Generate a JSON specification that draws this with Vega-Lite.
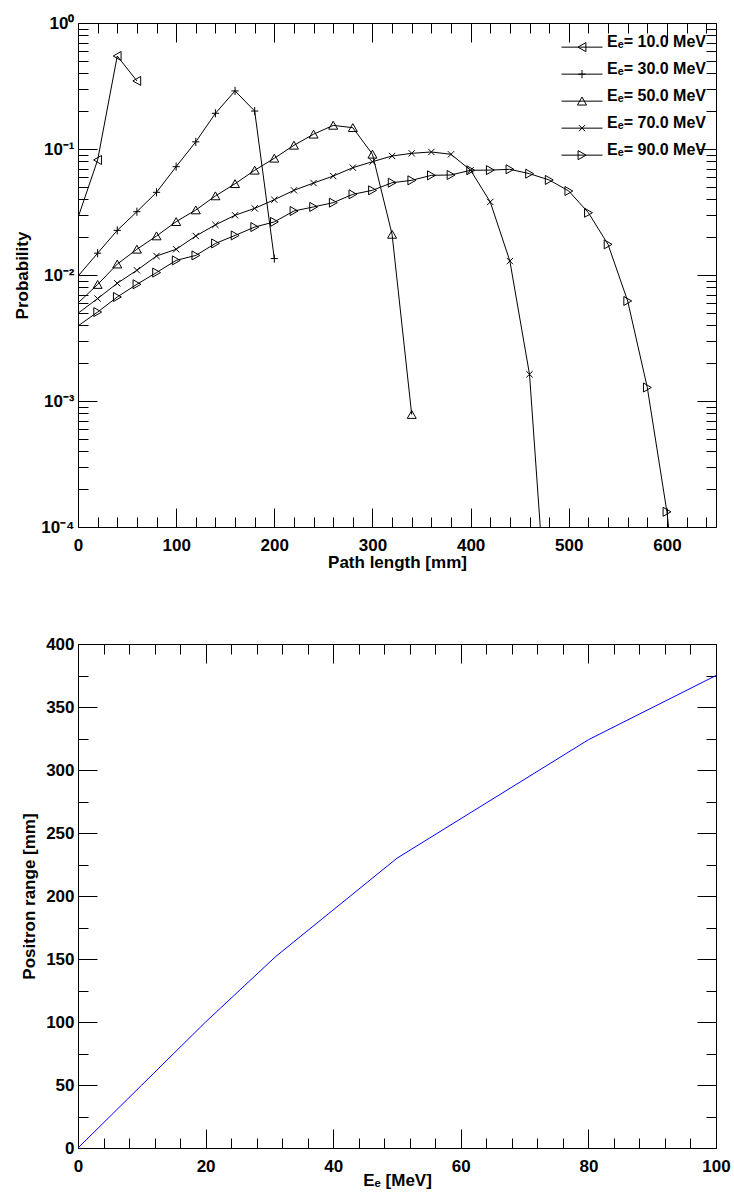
{
  "$schema": "https://vega.github.io/schema/vega-lite/v6.json",
  "padding": {"left": 13, "top": 14, "right": 5, "bottom": 5},
  "background": "white",
  "bounds": "flush",
  "spacing": 117,
  "config": {
    "font": "Liberation Sans",
    "view": {"stroke": null},
    "axis": {
      "labelFont": "Liberation Sans", "labelFontWeight": "bold", "labelFontSize": 17, "labelColor": "black",
      "titleFont": "Liberation Sans", "titleFontWeight": "bold", "titleFontSize": 17, "titleColor": "black",
      "domainColor": "black", "domainWidth": 1, "tickColor": "black", "tickWidth": 1,
      "grid": false, "labelFlush": false, "labelOverlap": false
    }
  },
  "vconcat": [
    {
      "width": 638, "height": 504,
      "data": {"values": [
        {"series": "Eₑ= 10.0 MeV", "x": 0, "p": 0.0285},
        {"series": "Eₑ= 10.0 MeV", "x": 20, "p": 0.0818},
        {"series": "Eₑ= 10.0 MeV", "x": 40, "p": 0.547},
        {"series": "Eₑ= 10.0 MeV", "x": 60, "p": 0.347},
        {"series": "Eₑ= 30.0 MeV", "x": 0, "p": 0.0098},
        {"series": "Eₑ= 30.0 MeV", "x": 20, "p": 0.0149},
        {"series": "Eₑ= 30.0 MeV", "x": 40, "p": 0.0226},
        {"series": "Eₑ= 30.0 MeV", "x": 60, "p": 0.0318},
        {"series": "Eₑ= 30.0 MeV", "x": 80, "p": 0.0453},
        {"series": "Eₑ= 30.0 MeV", "x": 100, "p": 0.0724},
        {"series": "Eₑ= 30.0 MeV", "x": 120, "p": 0.114},
        {"series": "Eₑ= 30.0 MeV", "x": 140, "p": 0.192},
        {"series": "Eₑ= 30.0 MeV", "x": 160, "p": 0.289},
        {"series": "Eₑ= 30.0 MeV", "x": 180, "p": 0.2},
        {"series": "Eₑ= 30.0 MeV", "x": 200, "p": 0.0135},
        {"series": "Eₑ= 50.0 MeV", "x": 0, "p": 0.006},
        {"series": "Eₑ= 50.0 MeV", "x": 20, "p": 0.0084},
        {"series": "Eₑ= 50.0 MeV", "x": 40, "p": 0.0122},
        {"series": "Eₑ= 50.0 MeV", "x": 60, "p": 0.016},
        {"series": "Eₑ= 50.0 MeV", "x": 80, "p": 0.0204},
        {"series": "Eₑ= 50.0 MeV", "x": 100, "p": 0.0265},
        {"series": "Eₑ= 50.0 MeV", "x": 120, "p": 0.0328},
        {"series": "Eₑ= 50.0 MeV", "x": 140, "p": 0.0424},
        {"series": "Eₑ= 50.0 MeV", "x": 160, "p": 0.053},
        {"series": "Eₑ= 50.0 MeV", "x": 180, "p": 0.0678},
        {"series": "Eₑ= 50.0 MeV", "x": 200, "p": 0.0844},
        {"series": "Eₑ= 50.0 MeV", "x": 220, "p": 0.107},
        {"series": "Eₑ= 50.0 MeV", "x": 240, "p": 0.131},
        {"series": "Eₑ= 50.0 MeV", "x": 260, "p": 0.154},
        {"series": "Eₑ= 50.0 MeV", "x": 280, "p": 0.1476},
        {"series": "Eₑ= 50.0 MeV", "x": 300, "p": 0.0908},
        {"series": "Eₑ= 50.0 MeV", "x": 320, "p": 0.021},
        {"series": "Eₑ= 50.0 MeV", "x": 340, "p": 0.00078},
        {"series": "Eₑ= 70.0 MeV", "x": 0, "p": 0.00497},
        {"series": "Eₑ= 70.0 MeV", "x": 20, "p": 0.0065},
        {"series": "Eₑ= 70.0 MeV", "x": 40, "p": 0.0086},
        {"series": "Eₑ= 70.0 MeV", "x": 60, "p": 0.0109},
        {"series": "Eₑ= 70.0 MeV", "x": 80, "p": 0.01415},
        {"series": "Eₑ= 70.0 MeV", "x": 100, "p": 0.016},
        {"series": "Eₑ= 70.0 MeV", "x": 120, "p": 0.0204},
        {"series": "Eₑ= 70.0 MeV", "x": 140, "p": 0.025},
        {"series": "Eₑ= 70.0 MeV", "x": 160, "p": 0.0298},
        {"series": "Eₑ= 70.0 MeV", "x": 180, "p": 0.0338},
        {"series": "Eₑ= 70.0 MeV", "x": 200, "p": 0.0396},
        {"series": "Eₑ= 70.0 MeV", "x": 220, "p": 0.047},
        {"series": "Eₑ= 70.0 MeV", "x": 240, "p": 0.0537},
        {"series": "Eₑ= 70.0 MeV", "x": 260, "p": 0.061},
        {"series": "Eₑ= 70.0 MeV", "x": 280, "p": 0.0711},
        {"series": "Eₑ= 70.0 MeV", "x": 300, "p": 0.0793},
        {"series": "Eₑ= 70.0 MeV", "x": 320, "p": 0.088},
        {"series": "Eₑ= 70.0 MeV", "x": 340, "p": 0.0924},
        {"series": "Eₑ= 70.0 MeV", "x": 360, "p": 0.0947},
        {"series": "Eₑ= 70.0 MeV", "x": 380, "p": 0.0908},
        {"series": "Eₑ= 70.0 MeV", "x": 400, "p": 0.0678},
        {"series": "Eₑ= 70.0 MeV", "x": 420, "p": 0.038},
        {"series": "Eₑ= 70.0 MeV", "x": 440, "p": 0.0129},
        {"series": "Eₑ= 70.0 MeV", "x": 460, "p": 0.00163},
        {"series": "Eₑ= 70.0 MeV", "x": 480, "p": 0.00001},
        {"series": "Eₑ= 90.0 MeV", "x": 0, "p": 0.00394},
        {"series": "Eₑ= 90.0 MeV", "x": 20, "p": 0.00508},
        {"series": "Eₑ= 90.0 MeV", "x": 40, "p": 0.00669},
        {"series": "Eₑ= 90.0 MeV", "x": 60, "p": 0.00844},
        {"series": "Eₑ= 90.0 MeV", "x": 80, "p": 0.01045},
        {"series": "Eₑ= 90.0 MeV", "x": 100, "p": 0.01306},
        {"series": "Eₑ= 90.0 MeV", "x": 120, "p": 0.0143},
        {"series": "Eₑ= 90.0 MeV", "x": 140, "p": 0.0178},
        {"series": "Eₑ= 90.0 MeV", "x": 160, "p": 0.0206},
        {"series": "Eₑ= 90.0 MeV", "x": 180, "p": 0.024},
        {"series": "Eₑ= 90.0 MeV", "x": 200, "p": 0.0264},
        {"series": "Eₑ= 90.0 MeV", "x": 220, "p": 0.0322},
        {"series": "Eₑ= 90.0 MeV", "x": 240, "p": 0.0347},
        {"series": "Eₑ= 90.0 MeV", "x": 260, "p": 0.0375},
        {"series": "Eₑ= 90.0 MeV", "x": 280, "p": 0.0437},
        {"series": "Eₑ= 90.0 MeV", "x": 300, "p": 0.047},
        {"series": "Eₑ= 90.0 MeV", "x": 320, "p": 0.054},
        {"series": "Eₑ= 90.0 MeV", "x": 340, "p": 0.0564},
        {"series": "Eₑ= 90.0 MeV", "x": 360, "p": 0.0618},
        {"series": "Eₑ= 90.0 MeV", "x": 380, "p": 0.0622},
        {"series": "Eₑ= 90.0 MeV", "x": 400, "p": 0.0678},
        {"series": "Eₑ= 90.0 MeV", "x": 420, "p": 0.068},
        {"series": "Eₑ= 90.0 MeV", "x": 440, "p": 0.069},
        {"series": "Eₑ= 90.0 MeV", "x": 460, "p": 0.0637},
        {"series": "Eₑ= 90.0 MeV", "x": 480, "p": 0.0568},
        {"series": "Eₑ= 90.0 MeV", "x": 500, "p": 0.0464},
        {"series": "Eₑ= 90.0 MeV", "x": 520, "p": 0.0312},
        {"series": "Eₑ= 90.0 MeV", "x": 540, "p": 0.0175},
        {"series": "Eₑ= 90.0 MeV", "x": 560, "p": 0.00622},
        {"series": "Eₑ= 90.0 MeV", "x": 580, "p": 0.00128},
        {"series": "Eₑ= 90.0 MeV", "x": 600, "p": 0.000132},
        {"series": "Eₑ= 90.0 MeV", "x": 620, "p": 0.000005}
      ]},
      "layer": [
        {
          "mark": {"type": "line", "color": "black", "strokeWidth": 1, "clip": true},
          "encoding": {
            "x": {"field": "x", "type": "quantitative",
              "scale": {"domain": [0, 650], "nice": false, "zero": false},
              "axis": {"orient": "bottom", "title": "Path length [mm]",
                "values": [0,20,40,60,80,100,120,140,160,180,200,220,240,260,280,300,320,340,360,380,400,420,440,460,480,500,520,540,560,580,600,620,640],
                "tickSize": {"expr": "datum.value % 100 === 0 ? -19 : -10"},
                "labelExpr": "datum.value % 100 === 0 ? datum.label : ''",
                "labelPadding": 29, "titlePadding": -8}},
            "y": {"field": "p", "type": "quantitative",
              "scale": {"type": "log", "domain": [0.0001, 1], "nice": false},
              "axis": {"orient": "left", "title": "Probability",
                "values": [0.0001,0.0002,0.0003,0.0004,0.0005,0.0006,0.0007,0.0008,0.0009,0.001,0.002,0.003,0.004,0.005,0.006,0.007,0.008,0.009,0.01,0.02,0.03,0.04,0.05,0.06,0.07,0.08,0.09,0.1,0.2,0.3,0.4,0.5,0.6,0.7,0.8,0.9,1],
                "tickSize": {"expr": "abs(log(datum.value)/LN10 - round(log(datum.value)/LN10)) < 0.000001 ? -19 : -10"},
                "labelExpr": "datum.value === 1 ? '10⁰' : datum.value === 0.1 ? '10⁻¹' : datum.value === 0.01 ? '10⁻²' : datum.value === 0.001 ? '10⁻³' : datum.value === 0.0001 ? '10⁻⁴' : ''",
                "labelPadding": 23, "titlePadding": 9}},
            "detail": {"field": "series"}
          }
        },
        {
          "transform": [{"filter": "datum.x > 0"}],
          "mark": {"type": "point", "filled": false, "stroke": "black", "strokeWidth": 1, "size": 81, "opacity": 1, "clip": true},
          "encoding": {
            "x": {"field": "x", "type": "quantitative",
              "axis": {"orient": "top", "title": null, "labels": false,
                "values": [0,20,40,60,80,100,120,140,160,180,200,220,240,260,280,300,320,340,360,380,400,420,440,460,480,500,520,540,560,580,600,620,640],
                "tickSize": {"expr": "datum.value % 100 === 0 ? -19 : -10"}}},
            "y": {"field": "p", "type": "quantitative",
              "axis": {"orient": "right", "title": null, "labels": false,
                "values": [0.0001,0.0002,0.0003,0.0004,0.0005,0.0006,0.0007,0.0008,0.0009,0.001,0.002,0.003,0.004,0.005,0.006,0.007,0.008,0.009,0.01,0.02,0.03,0.04,0.05,0.06,0.07,0.08,0.09,0.1,0.2,0.3,0.4,0.5,0.6,0.7,0.8,0.9,1],
                "tickSize": {"expr": "abs(log(datum.value)/LN10 - round(log(datum.value)/LN10)) < 0.000001 ? -19 : -10"}}},
            "shape": {"field": "series", "type": "nominal",
              "scale": {
                "domain": ["Eₑ= 10.0 MeV", "Eₑ= 30.0 MeV", "Eₑ= 50.0 MeV", "Eₑ= 70.0 MeV", "Eₑ= 90.0 MeV"],
                "range": ["M-0.9,0L0.85,-1L0.85,1Z", "M-0.8,0L0.8,0M0,-0.9L0,0.9", "M0,-0.9L1,0.85L-1,0.85Z", "M-0.7,-0.7L0.7,0.7M-0.7,0.7L0.7,-0.7", "M0.9,0L-0.85,-1L-0.85,1Z"]},
              "legend": null
            }
          }
        },
        {
          "transform": [{"filter": "false"}],
          "mark": {"type": "point", "filled": false, "stroke": "black", "strokeWidth": 1, "size": 1681, "opacity": 1},
          "encoding": {
            "shape": {"field": "series", "type": "nominal",
              "scale": {
                "domain": ["Eₑ= 10.0 MeV", "Eₑ= 30.0 MeV", "Eₑ= 50.0 MeV", "Eₑ= 70.0 MeV", "Eₑ= 90.0 MeV"],
                "range": ["M-1,0L1,0M-0.2,0L0.19,-0.22L0.19,0.22Z", "M-1,0L1,0M-0.18,0L0.18,0M0,-0.2L0,0.2", "M-1,0L1,0M0,-0.2L0.22,0.19L-0.22,0.19Z", "M-1,0L1,0M-0.15,-0.15L0.15,0.15M-0.15,0.15L0.15,-0.15", "M-1,0L1,0M0.2,0L-0.19,-0.22L-0.19,0.22Z"]},
              "legend": {
                "orient": "none", "legendX": 483, "legendY": 11, "title": null, "padding": 0,
                "symbolSize": 1681, "symbolStrokeWidth": 1, "symbolStrokeColor": "black",
                "labelFont": "Liberation Sans", "labelFontWeight": "bold", "labelFontSize": 16, "labelColor": "black",
                "labelBaseline": "alphabetic",
                "labelOffset": 4, "rowPadding": 0, "clipHeight": 26.3
              }
            }
          }
        }
      ],
      "resolve": {"axis": {"x": "independent", "y": "independent"}, "scale": {"shape": "independent"}}
    },
    {
      "width": 638, "height": 504,
      "data": {"values": [
        {"E": 0, "range": 0},
        {"E": 10, "range": 50},
        {"E": 20, "range": 100},
        {"E": 31, "range": 152},
        {"E": 50, "range": 230},
        {"E": 80, "range": 324},
        {"E": 100, "range": 375}
      ]},
      "layer": [
        {
          "mark": {"type": "line", "color": "#0000ff", "strokeWidth": 1},
          "encoding": {
            "x": {"field": "E", "type": "quantitative",
              "scale": {"domain": [0, 100], "nice": false},
              "axis": {"orient": "bottom", "title": "Eₑ [MeV]",
                "values": [0,4,8,12,16,20,24,28,32,36,40,44,48,52,56,60,64,68,72,76,80,84,88,92,96,100],
                "tickSize": {"expr": "datum.value % 20 === 0 ? -19 : -10"},
                "labelExpr": "datum.value % 20 === 0 ? datum.label : ''",
                "labelPadding": 29, "titlePadding": -11}},
            "y": {"field": "range", "type": "quantitative",
              "scale": {"domain": [0, 400], "nice": false},
              "axis": {"orient": "left", "title": "Positron range [mm]",
                "values": [0,25,50,75,100,125,150,175,200,225,250,275,300,325,350,375,400],
                "tickSize": {"expr": "datum.value % 50 === 0 ? -19 : -10"},
                "labelExpr": "datum.value % 50 === 0 ? datum.label : ''",
                "labelPadding": 23, "titlePadding": 7}}
          }
        },
        {
          "mark": {"type": "line", "color": "#0000ff", "strokeWidth": 1, "strokeOpacity": 0},
          "encoding": {
            "x": {"field": "E", "type": "quantitative",
              "axis": {"orient": "top", "title": null, "labels": false,
                "values": [0,4,8,12,16,20,24,28,32,36,40,44,48,52,56,60,64,68,72,76,80,84,88,92,96,100],
                "tickSize": {"expr": "datum.value % 20 === 0 ? -19 : -10"}}},
            "y": {"field": "range", "type": "quantitative",
              "axis": {"orient": "right", "title": null, "labels": false,
                "values": [0,25,50,75,100,125,150,175,200,225,250,275,300,325,350,375,400],
                "tickSize": {"expr": "datum.value % 50 === 0 ? -19 : -10"}}}
          }
        }
      ],
      "resolve": {"axis": {"x": "independent", "y": "independent"}}
    }
  ]
}
